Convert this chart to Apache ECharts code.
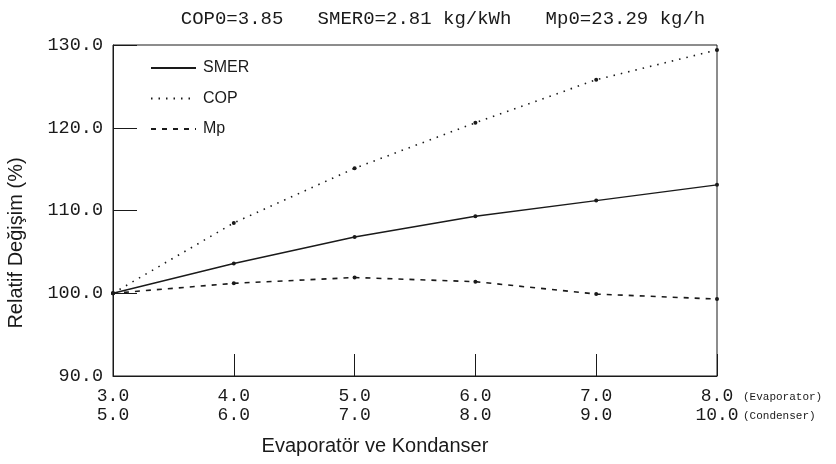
<!DOCTYPE html>
<html>
<head>
<meta charset="utf-8">
<script src="https://cdn.jsdelivr.net/npm/echarts@6/dist/echarts.min.js"></script>
<style>html,body{margin:0;padding:0;background:#fff}#c{width:836px;height:464px}</style>
</head>
<body>
<div id="c"></div>
<script>
const evaporatorLabels = ["3.0", "4.0", "5.0", "6.0", "7.0", "8.0"];
const condenserLabels = ["5.0", "6.0", "7.0", "8.0", "9.0", "10.0"];
const smer = [100.0, 103.6, 106.8, 109.3, 111.2, 113.1];
const cop = [100.0, 108.5, 115.1, 120.6, 125.8, 129.4];
const mp = [100.0, 101.2, 101.9, 101.4, 99.9, 99.3];
const seriesNames = ["SMER", "COP", "Mp"];
const titleText = "COP0=3.85   SMER0=2.81 kg/kWh   Mp0=23.29 kg/h";

const mono = "'Liberation Mono', 'DejaVu Sans Mono', monospace";
const sans = "'Liberation Sans', Arial, sans-serif";
const ink = "#1a1a1a";

const chart = echarts.init(document.getElementById('c'), null, {renderer: 'canvas'});
function mk(name, data, type) {
  return {
    name: name, type: 'line', data: data,
    symbol: 'circle', symbolSize: 4, showSymbol: true,
    itemStyle: {color: ink},
    lineStyle: {color: ink, width: type === 'solid' ? 1.4 : 1.6, type: type},
    animation: false
  };
}
chart.setOption({
  animation: false,
  backgroundColor: '#fff',
  title: {
    text: titleText, left: 438, top: 4, textAlign: 'center',
    textStyle: {fontFamily: mono, fontSize: 19, fontWeight: 'normal', color: ink}
  },
  legend: {
    orient: 'vertical', left: 150, top: 60, padding: 0, itemGap: 14.5,
    itemWidth: 45, itemHeight: 14,
    itemStyle: {opacity: 0},
    textStyle: {fontFamily: sans, fontSize: 16, color: ink, padding: [0, 0, 0, 2]},
    data: seriesNames
  },
  grid: {left: 113, right: 119, top: 45, bottom: 88, show: true, borderColor: ink, borderWidth: 1},
  xAxis: {
    type: 'category', boundaryGap: false, data: evaporatorLabels,
    axisLine: {lineStyle: {color: ink, width: 1}},
    axisTick: {inside: true, length: 22, lineStyle: {color: ink}},
    axisLabel: {
      margin: 11, fontFamily: mono, fontSize: 18, color: ink, lineHeight: 19,
      formatter: function (v, i) { return v + '\n' + condenserLabels[i]; }
    },
    splitLine: {show: false}
  },
  yAxis: {
    type: 'value', min: 90, max: 130, interval: 10,
    axisLine: {show: true, lineStyle: {color: ink, width: 1}},
    axisTick: {show: true, inside: true, length: 24, lineStyle: {color: ink}},
    axisLabel: {margin: 10, fontFamily: mono, fontSize: 18.5, color: ink,
      formatter: function (v) { return v.toFixed(1); }},
    splitLine: {show: false}
  },
  graphic: [
    {type: 'text', x: 16, y: 243, rotation: Math.PI / 2,
      style: {text: 'Relatif Değişim (%)', fontFamily: sans, fontSize: 20, fill: ink, align: 'center', verticalAlign: 'middle'}},
    {type: 'text', x: 375, y: 446,
      style: {text: 'Evaporatör ve Kondanser', fontFamily: sans, fontSize: 20, fill: ink, align: 'center', verticalAlign: 'middle'}},
    {type: 'text', x: 743, y: 397,
      style: {text: '(Evaporator)', fontFamily: mono, fontSize: 11, fill: ink, align: 'left', verticalAlign: 'middle'}},
    {type: 'text', x: 743, y: 416,
      style: {text: '(Condenser)', fontFamily: mono, fontSize: 11, fill: ink, align: 'left', verticalAlign: 'middle'}}
  ],
  series: [
    mk(seriesNames[0], smer, 'solid'),
    mk(seriesNames[1], cop, [1.5, 6]),
    mk(seriesNames[2], mp, [5, 6])
  ]
});
</script>
</body>
</html>
